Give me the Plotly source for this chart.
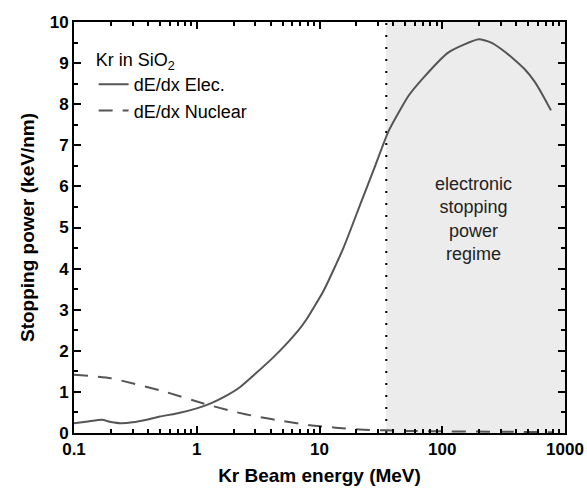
import plotly.graph_objects as go

# Electronic stopping power (keV/nm) vs Kr beam energy (MeV)
elec_energy = [0.1, 0.13, 0.168, 0.2, 0.24, 0.3, 0.4, 0.5, 0.7, 1.0, 1.3, 1.7, 2.26, 3.0, 4.2,
               5.5, 6.7, 7.7, 10.8, 15.7, 21.6, 28, 36.6, 53, 71, 111, 150, 199, 250, 300, 385, 470, 562, 650, 769]
elec_sp = [0.24, 0.28, 0.32, 0.27, 0.24, 0.26, 0.33, 0.40, 0.48, 0.60, 0.72, 0.89, 1.12, 1.44, 1.84,
           2.20, 2.49, 2.73, 3.46, 4.51, 5.58, 6.45, 7.35, 8.20, 8.66, 9.25, 9.45, 9.58, 9.50, 9.35, 9.09, 8.85, 8.56, 8.25, 7.85]

# Nuclear stopping power
nuc_energy = [0.1, 0.2, 0.5, 1.1, 1.94, 3.2, 5.1, 8.4, 13.5, 22.9, 35, 50, 100, 300, 800]
nuc_sp = [1.42, 1.33, 1.04, 0.73, 0.53, 0.39, 0.29, 0.19, 0.13, 0.08, 0.065, 0.05, 0.04, 0.03, 0.02]

regime_start = 35
x_ticks = [0.1, 1, 10, 100, 1000]
x_ticklabels = ["0.1", "1", "10", "100", "1000"]
x_minor = [v * m for v in [0.1, 1, 10, 100] for m in range(2, 10)]
y_ticks = list(range(0, 11))
y_ticklabels = [str(v) for v in y_ticks]

LINE = "#555555"
FONT = "Liberation Sans, Arial, sans-serif"

fig = go.Figure()

fig.add_vrect(x0=regime_start, x1=1000, fillcolor="#ececec", line_width=0, layer="below")

fig.add_trace(go.Scatter(x=[regime_start, regime_start], y=[0, 10], mode="lines",
                         line=dict(color="black", width=2, dash="2px,10px"),
                         showlegend=False, hoverinfo="skip"))

fig.add_trace(go.Scatter(x=elec_energy, y=elec_sp, mode="lines", name="dE/dx Elec.",
                         line=dict(color=LINE, width=2, shape="spline", smoothing=0.5)))
fig.add_trace(go.Scatter(x=nuc_energy, y=nuc_sp, mode="lines", name="dE/dx Nuclear",
                         line=dict(color=LINE, width=2, dash="14px,10px", shape="spline", smoothing=0.5)))

fig.add_annotation(x=2.257, y=5.21, xref="x", yref="y",
                   text="electronic<br>stopping<br>power<br>regime", showarrow=False,
                   font=dict(family=FONT, size=18, color="#222222"), align="center")

tickfont = dict(family=FONT, size=17, color="black")
titlefont = dict(family=FONT, size=19, color="black")

fig.update_layout(
    width=587, height=493,
    margin=dict(l=74, r=22, t=22, b=60),
    plot_bgcolor="rgba(0,0,0,0)", paper_bgcolor="white",
    font=dict(family=FONT, size=17, color="black"),
    xaxis=dict(type="log", range=[-1, 3], tickmode="array", tickvals=x_ticks,
               ticktext=["<b>%s</b>" % t for t in x_ticklabels],
               ticks="inside", ticklen=7, tickwidth=2, tickcolor="black",
               showline=True, linecolor="black", linewidth=2, mirror="allticks",
               showgrid=False, zeroline=False, automargin=False, tickfont=tickfont,
               minor=dict(ticks="inside", ticklen=4, tickwidth=1.5, tickcolor="black",
                          tickmode="array", tickvals=x_minor, showgrid=False),
               title=dict(text="<b>Kr Beam energy (MeV)</b>", standoff=10, font=titlefont)),
    yaxis=dict(range=[0, 10], tickmode="array", tickvals=y_ticks,
               ticktext=["<b>%s</b>" % t for t in y_ticklabels],
               ticks="inside", ticklen=7, tickwidth=2, tickcolor="black",
               showline=True, linecolor="black", linewidth=2, mirror="allticks",
               showgrid=False, zeroline=False, automargin=False, tickfont=tickfont,
               minor=dict(ticks="inside", ticklen=4, tickwidth=1.5, tickcolor="black",
                          dtick=0.5, showgrid=False),
               title=dict(text="<b>Stopping power (keV/nm)</b>", standoff=10, font=titlefont)),
    legend=dict(x=0.04, y=0.95, xanchor="left", yanchor="top", bgcolor="rgba(0,0,0,0)",
                title=dict(text="Kr in SiO<sub>2</sub>", font=dict(family=FONT, size=18)),
                font=dict(family=FONT, size=18), tracegroupgap=0),
)

fig.write_html("out.html")
